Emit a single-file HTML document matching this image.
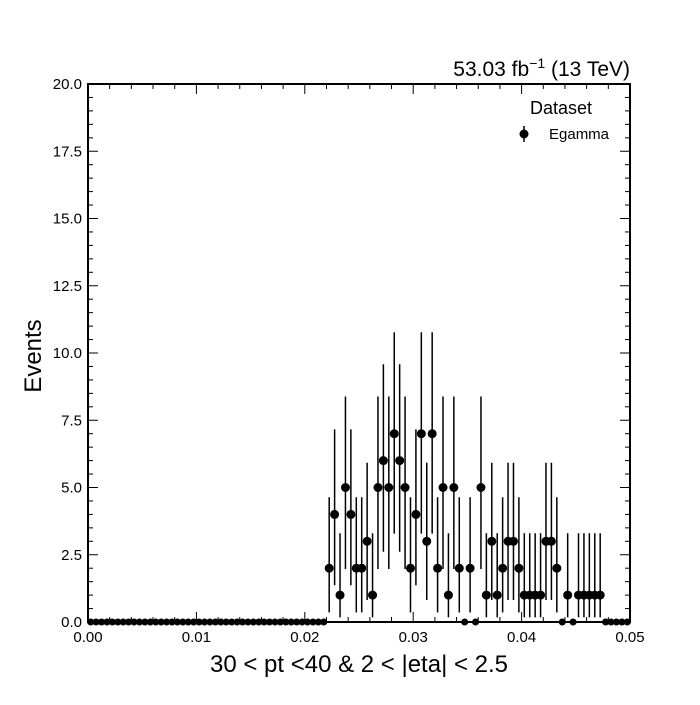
<!DOCTYPE html>
<html><head><meta charset="utf-8"><style>body{margin:0;background:#fff}svg{font-family:"Liberation Sans",sans-serif}</style></head>
<body>
<svg id="c" width="700" height="700"></svg>
<script>
const counts=[0,0,0,0,0,0,0,0,0,0,0,0,0,0,0,0,0,0,0,0,0,0,0,0,0,0,0,0,0,0,0,0,0,0,0,0,0,0,0,0,0,0,0,0,
2,4,1,5,4,2,2,3,1,5,6,5,7,6,5,2,4,7,3,7,2,5,1,5,2,0,2,0,5,1,3,1,2,3,3,2,1,1,1,1,3,3,2,0,1,0,1,1,1,1,1,0,0,0,0,0];
const binWidth=0.0005;
const yTicks=[0,2.5,5,7.5,10,12.5,15,17.5,20];
const yTickLabels=["0.0","2.5","5.0","7.5","10.0","12.5","15.0","17.5","20.0"];
const xTicks=[0,0.01,0.02,0.03,0.04,0.05];
const xTickLabels=["0.00","0.01","0.02","0.03","0.04","0.05"];
const lo=[0,0.173,0.355,0.818,1.366,1.970,2.613,3.285,3.981];
const hi=[0,3.300,4.638,5.918,7.163,8.382,9.584,10.77,11.95];
const L=88,R=630,T=84,B=622;
const sx=v=>L+(v-0)/0.05*(R-L), sy=v=>B-v/20*(B-T);
const svg=document.getElementById('c');const NS="http://www.w3.org/2000/svg";
function mk(t,a,p){const e=document.createElementNS(NS,t);for(const k in a)e.setAttribute(k,a[k]);(p||svg).appendChild(e);return e;}
const g=mk('g',{});


counts.forEach((n,i)=>{const x=sx((i+0.5)*binWidth);
 if(n>0){const l=mk('line',{x1:x,x2:x,y1:sy(lo[n]),y2:sy(hi[n]),stroke:'#000','stroke-width':1.5},g);
 
 }
 const c=mk('circle',{cx:x,cy:sy(n),r:n>0?4.5:3.5,fill:'#000'},g);
 
 
});
const fr=mk('rect',{x:L,y:T,width:R-L,height:B-T,fill:'none',stroke:'#000','stroke-width':2});


for(let v=0;v<=20.001;v+=0.5){const y=sy(v);const maj=Math.abs(v/2.5-Math.round(v/2.5))<1e-6;const len=maj?10:5;
 mk('line',{x1:L,x2:L+len,y1:y,y2:y,stroke:'#000','stroke-width':1});mk('line',{x1:R,x2:R-len,y1:y,y2:y,stroke:'#000','stroke-width':1});}
for(let v=0;v<=0.05001;v+=0.002){const x=sx(v);const maj=Math.abs(v/0.01-Math.round(v/0.01))<1e-6;const len=maj?10:5;
 mk('line',{x1:x,x2:x,y1:B,y2:B-len,stroke:'#000','stroke-width':1});mk('line',{x1:x,x2:x,y1:T,y2:T+len,stroke:'#000','stroke-width':1});}
yTicks.forEach((v,i)=>{const t=mk('text',{x:L-6,y:sy(v)+5,'text-anchor':'end','font-size':15});t.textContent=yTickLabels[i];
 
 });
xTicks.forEach((v,i)=>{const t=mk('text',{x:sx(v),y:B+20,'text-anchor':'middle','font-size':15});t.textContent=xTickLabels[i];
 
 });
</script>
<svg width="700" height="700" style="position:absolute;left:0;top:0">
<text x="630" y="76" text-anchor="end" font-size="21" font-family="Liberation Sans">53.03 fb<tspan dy="-8" font-size="14">−1</tspan><tspan dy="8"> (13 TeV)</tspan></text>
<text x="359" y="672" text-anchor="middle" font-size="24" font-family="Liberation Sans">30 &lt; pt &lt;40 &amp; 2 &lt; |eta| &lt; 2.5</text>
<text transform="translate(41,356) rotate(-90)" text-anchor="middle" font-size="24" font-family="Liberation Sans">Events</text>
<text x="530" y="114" font-size="18" font-family="Liberation Sans">Dataset</text>
<g><line x1="524" x2="524" y1="126" y2="142" stroke="#000" stroke-width="1.5"/><circle cx="524" cy="134" r="4.5"/><text x="549" y="139" font-size="15" font-family="Liberation Sans">Egamma</text></g>
</svg>
</body></html>
